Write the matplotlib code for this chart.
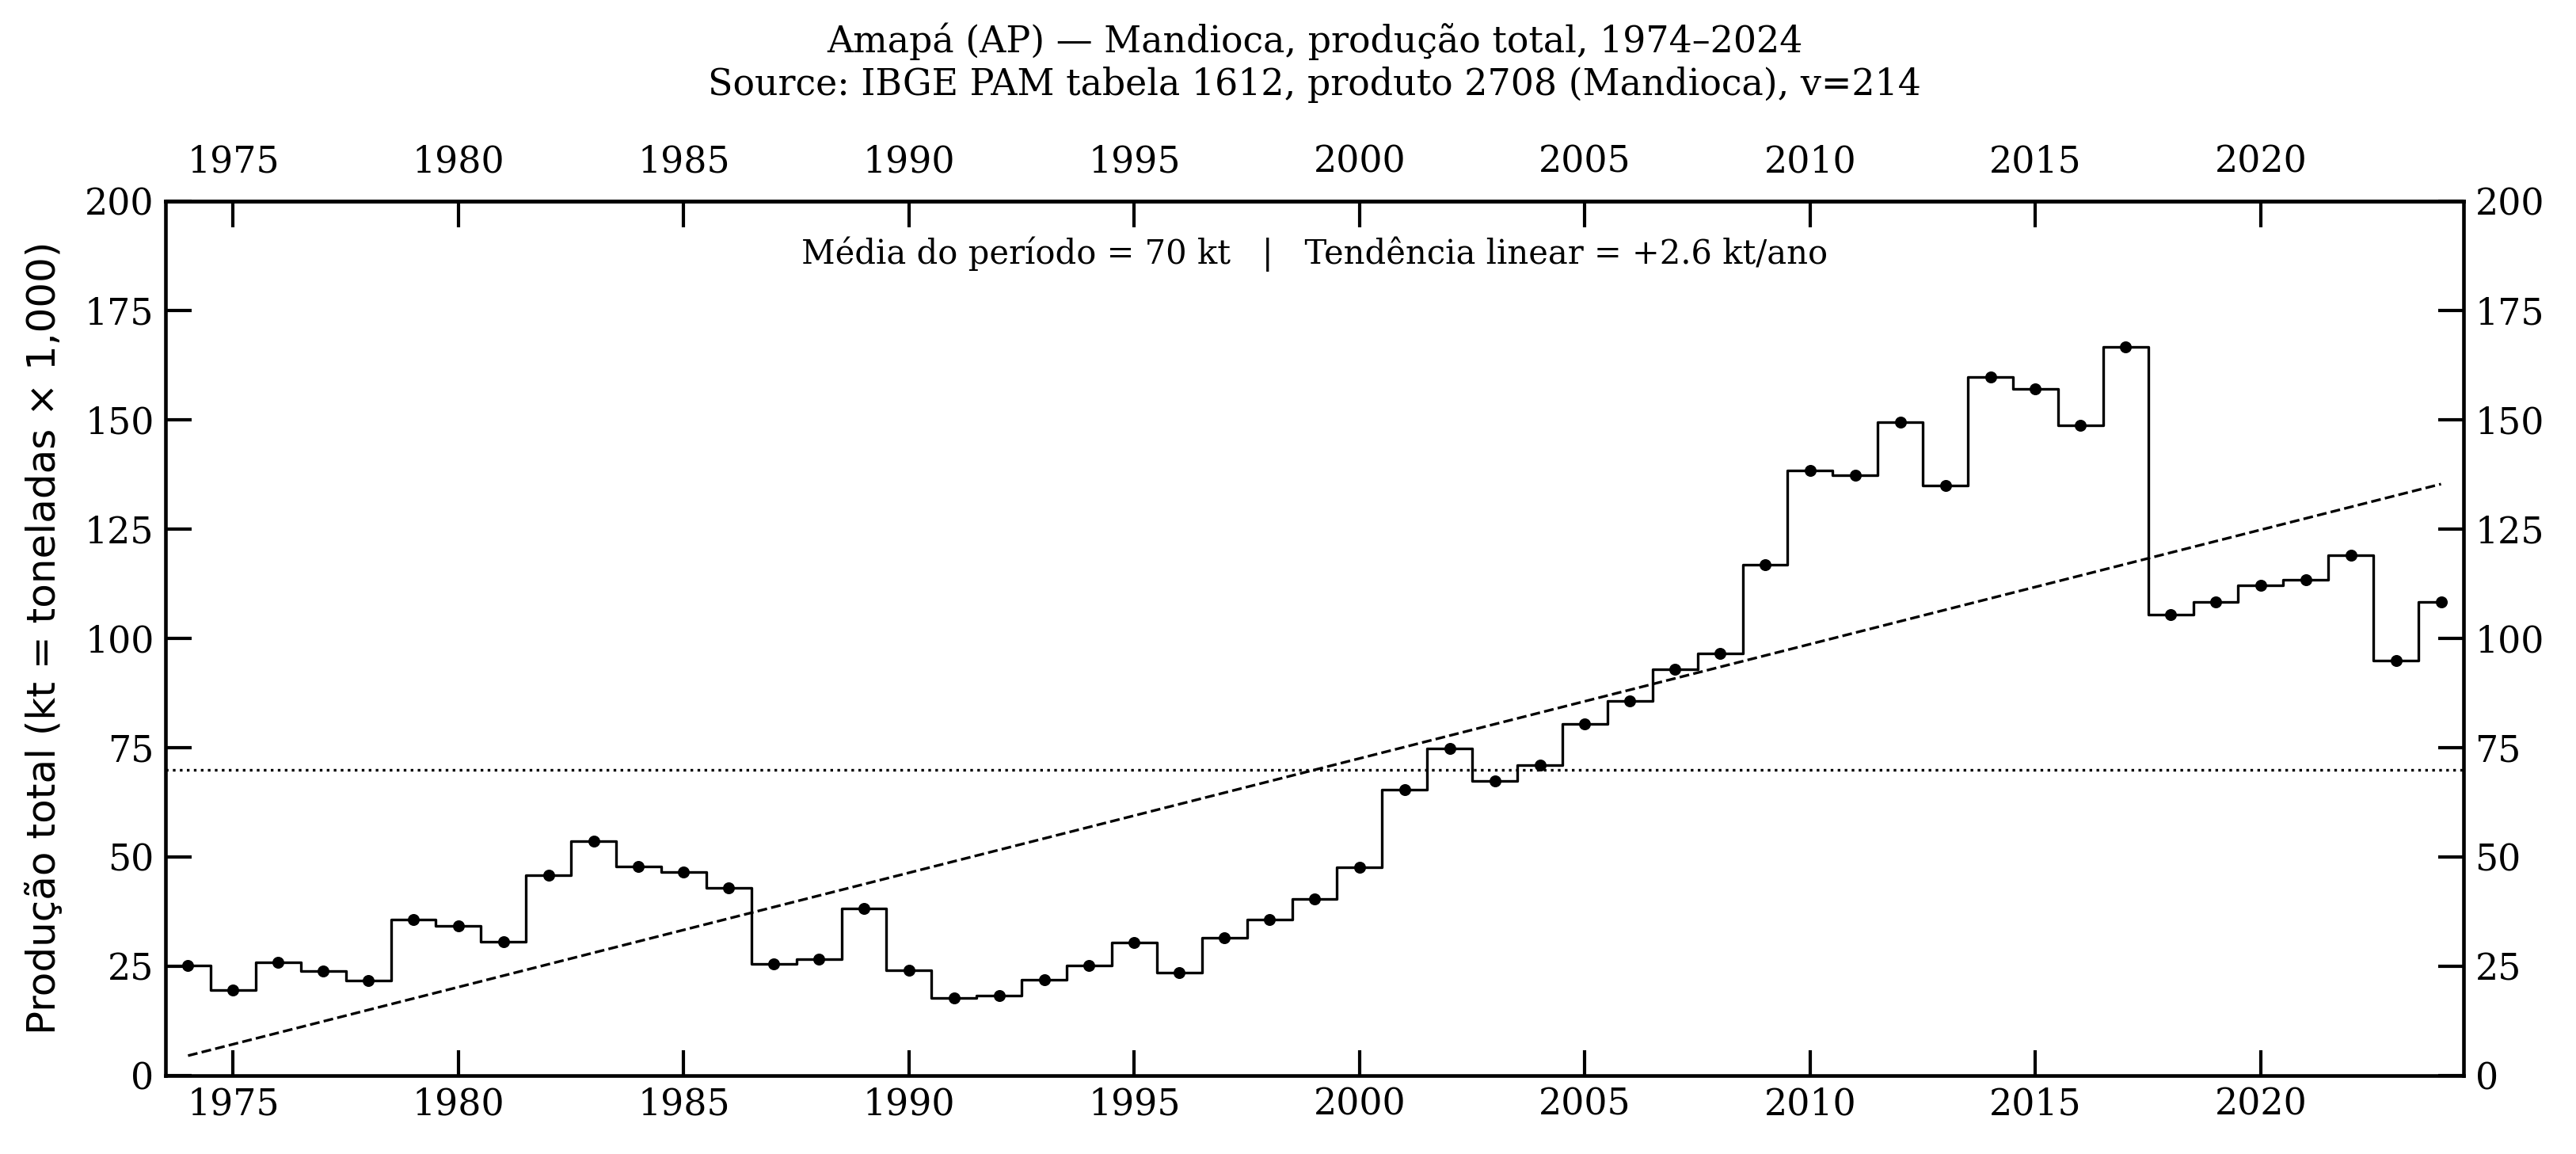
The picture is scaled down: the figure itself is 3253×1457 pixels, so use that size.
import numpy as np
import matplotlib
matplotlib.use("Agg")
import matplotlib.pyplot as plt

years = list(range(1974, 2025))
producao_kt = [
    25.1, 19.5, 25.9, 23.9, 21.7, 35.7, 34.2, 30.6, 45.7, 53.6,
    47.8, 46.4, 42.9, 25.4, 26.6, 38.2, 24.0, 17.7, 18.3, 21.9,
    25.1, 30.3, 23.5, 31.5, 35.7, 40.4, 47.6, 65.3, 74.8, 67.3,
    70.9, 80.3, 85.6, 92.8, 96.6, 116.9, 138.3, 137.3, 149.5, 134.9,
    159.8, 157.1, 148.7, 166.7, 105.4, 108.3, 112.1, 113.4, 119.0, 94.8,
    108.3,
]
yticks = [0, 25, 50, 75, 100, 125, 150, 175, 200]
xticks = [1975, 1980, 1985, 1990, 1995, 2000, 2005, 2010, 2015, 2020]

title = "Amapá (AP) — Mandioca, produção total, 1974–2024\nSource: IBGE PAM tabela 1612, produto 2708 (Mandioca), v=214"
ylabel = "Produção total (kt = toneladas × 1,000)"

plt.rcParams['font.family'] = ['DejaVu Serif']

x = np.array(years, dtype=float)
y = np.array(producao_kt, dtype=float)
mean = y.mean()
slope, intercept = np.polyfit(x, y, 1)

fig = plt.figure(figsize=(3253 / 300, 1457 / 300), dpi=300)
ax = fig.add_axes([209 / 3253, 1 - 1357.5 / 1457, (3111 - 209) / 3253, (1357.5 - 254) / 1457])

ax.step(x, y, where='mid', color='black', lw=0.8)
ax.plot(x, y, 'o', color='black', ms=3.0, mew=0.6)
ax.axhline(mean, color='black', ls=':', lw=0.8)
ax.plot(x, slope * x + intercept, color='black', ls='--', lw=0.8)

ax.set_xlim(1973.5, 2024.5)
ax.set_ylim(0, 200)
ax.set_xticks(xticks)
ax.set_yticks(yticks)
ax.tick_params(direction='in', length=7.8, width=1.0, labelsize=11,
               top=False, right=True, labeltop=False, labelright=True)
for s in ax.spines.values():
    s.set_linewidth(1.1)

secx = ax.secondary_xaxis('top')
secx.set_xticks(xticks)
secx.tick_params(direction='in', length=7.8, width=1.0, labelsize=11, pad=6.4)
secx.spines['top'].set_linewidth(1.1)

ax.set_ylabel(ylabel, fontsize=12, family='DejaVu Sans', labelpad=6.4)
ax.set_title(title, fontsize=11, pad=15)
ax.text(0.5, 0.96,
        f"Média do período = {mean:.0f} kt   |   Tendência linear = {slope:+.1f} kt/ano",
        transform=ax.transAxes, ha='center', va='top', fontsize=10)

fig.savefig("out.png", dpi=300)
